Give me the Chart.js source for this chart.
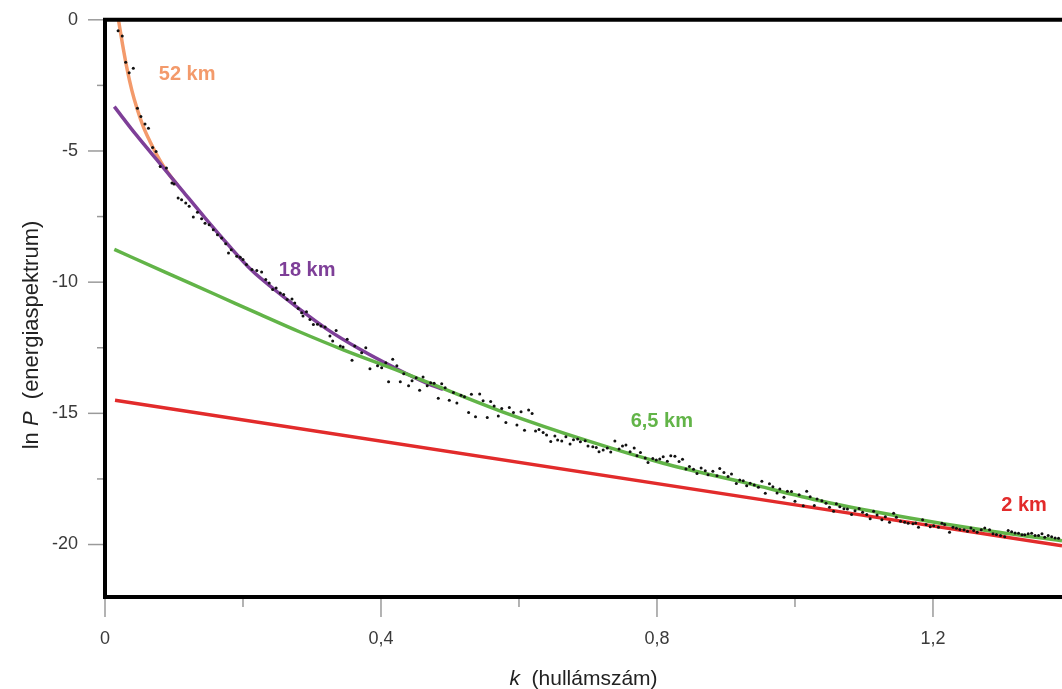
<!DOCTYPE html>
<html>
<head>
<meta charset="utf-8">
<script src="https://cdn.jsdelivr.net/npm/chart.js@4.4.1/dist/chart.umd.min.js"></script>
<style>
  html, body { margin: 0; padding: 0; background: #fff; overflow: hidden; }
  #wrap { position: relative; width: 1062px; height: 689px; }
</style>
</head>
<body>
<div id="wrap"><canvas id="spectrum"></canvas></div>
<script>
// measured spectrum points [k, ln P]
const dots = [
  [0.019,-0.42],[0.025,-0.62],[0.030,-1.62],[0.035,-2.02],[0.041,-1.85],[0.047,-3.37],[0.052,-3.69],
  [0.058,-3.97],[0.063,-4.13],[0.069,-4.87],[0.074,-5.02],[0.080,-5.59],[0.089,-5.65],[0.097,-6.22],
  [0.100,-6.26],[0.106,-6.79],[0.111,-6.86],[0.117,-6.98],[0.122,-7.11],[0.128,-7.52],[0.134,-7.34],
  [0.140,-7.58],[0.145,-7.75],[0.151,-7.81],[0.157,-8.00],[0.163,-8.19],[0.169,-8.32],[0.175,-8.54],
  [0.179,-8.89],[0.183,-8.76],[0.191,-9.01],[0.196,-9.05],[0.200,-9.14],[0.205,-9.33],[0.213,-9.52],
  [0.220,-9.56],[0.227,-9.61],[0.233,-9.90],[0.238,-10.03],[0.243,-10.28],[0.248,-10.22],[0.254,-10.41],
  [0.259,-10.47],[0.264,-10.66],[0.271,-10.64],[0.275,-10.79],[0.280,-11.00],[0.285,-11.17],[0.287,-11.29],
  [0.292,-11.13],[0.297,-11.42],[0.302,-11.61],[0.308,-11.60],[0.313,-11.67],[0.319,-11.71],[0.326,-12.05],
  [0.330,-12.24],[0.335,-11.84],[0.341,-12.43],[0.345,-12.47],[0.351,-12.18],[0.358,-12.98],[0.362,-12.43],
  [0.372,-12.69],[0.378,-12.50],[0.384,-13.30],[0.395,-13.19],[0.401,-13.26],[0.407,-13.07],[0.411,-13.80],
  [0.417,-12.94],[0.423,-13.19],[0.428,-13.80],[0.433,-13.49],[0.440,-13.95],[0.445,-13.76],[0.451,-13.64],
  [0.456,-14.12],[0.461,-13.61],[0.467,-13.95],[0.472,-13.83],[0.477,-13.85],[0.483,-14.42],[0.488,-13.87],
  [0.493,-14.02],[0.499,-14.50],[0.505,-14.21],[0.510,-14.61],[0.516,-14.31],[0.521,-14.37],[0.527,-14.97],
  [0.531,-14.27],[0.537,-15.13],[0.543,-14.26],[0.548,-14.52],[0.554,-15.16],[0.559,-14.55],[0.564,-14.72],
  [0.570,-15.10],[0.575,-14.82],[0.581,-15.35],[0.586,-14.78],[0.592,-14.97],[0.597,-15.44],[0.603,-14.94],
  [0.608,-15.64],[0.614,-14.87],[0.619,-15.01],[0.624,-15.67],[0.629,-15.62],[0.635,-15.73],[0.640,-15.83],
  [0.646,-16.07],[0.652,-15.86],[0.656,-16.02],[0.662,-16.05],[0.668,-15.89],[0.674,-16.17],[0.679,-16.01],
  [0.685,-15.98],[0.689,-16.08],[0.696,-16.04],[0.700,-16.24],[0.707,-16.27],[0.712,-16.30],[0.716,-16.46],
  [0.722,-16.40],[0.728,-16.32],[0.733,-16.47],[0.739,-16.05],[0.745,-16.36],[0.750,-16.24],[0.755,-16.21],
  [0.761,-16.46],[0.767,-16.32],[0.771,-16.62],[0.776,-16.49],[0.783,-16.70],[0.787,-16.87],[0.794,-16.72],
  [0.799,-16.78],[0.804,-16.74],[0.809,-16.65],[0.815,-16.83],[0.820,-16.62],[0.826,-16.64],[0.832,-16.84],
  [0.837,-16.75],[0.842,-17.12],[0.847,-17.03],[0.853,-17.13],[0.858,-17.29],[0.864,-17.08],[0.870,-17.19],
  [0.874,-17.34],[0.881,-17.21],[0.887,-17.38],[0.891,-17.10],[0.897,-17.25],[0.903,-17.41],[0.908,-17.31],
  [0.915,-17.67],[0.920,-17.54],[0.925,-17.57],[0.930,-17.76],[0.935,-17.66],[0.941,-17.73],[0.947,-17.82],
  [0.952,-17.59],[0.957,-18.05],[0.963,-17.68],[0.968,-17.80],[0.974,-18.04],[0.978,-17.88],[0.984,-18.20],
  [0.989,-17.97],[0.995,-17.98],[1.000,-18.35],[1.006,-18.10],[1.012,-18.52],[1.017,-17.97],[1.022,-18.18],
  [1.028,-18.51],[1.032,-18.26],[1.039,-18.33],[1.045,-18.43],[1.050,-18.58],[1.056,-18.73],[1.060,-18.45],
  [1.065,-18.56],[1.071,-18.64],[1.076,-18.65],[1.082,-18.86],[1.087,-18.71],[1.093,-18.63],[1.098,-18.77],
  [1.104,-18.86],[1.109,-19.02],[1.114,-18.73],[1.119,-18.87],[1.126,-19.06],[1.131,-18.94],[1.137,-19.15],
  [1.143,-18.81],[1.147,-18.96],[1.153,-19.11],[1.159,-19.15],[1.164,-19.19],[1.171,-19.21],[1.175,-19.18],
  [1.179,-19.34],[1.185,-19.06],[1.190,-19.24],[1.196,-19.32],[1.201,-19.28],[1.208,-19.34],[1.213,-19.19],
  [1.217,-19.24],[1.224,-19.53],[1.229,-19.34],[1.234,-19.38],[1.239,-19.43],[1.245,-19.44],[1.250,-19.49],
  [1.255,-19.37],[1.259,-19.47],[1.264,-19.53],[1.270,-19.44],[1.275,-19.37],[1.282,-19.44],[1.287,-19.59],
  [1.292,-19.62],[1.298,-19.66],[1.304,-19.70],[1.309,-19.47],[1.314,-19.51],[1.319,-19.56],[1.324,-19.57],
  [1.329,-19.63],[1.333,-19.63],[1.338,-19.59],[1.343,-19.57],[1.348,-19.66],[1.353,-19.66],[1.358,-19.59],
  [1.362,-19.72],[1.367,-19.66],[1.372,-19.70],[1.377,-19.75],[1.382,-19.76]
];

// fitted curves [k, ln P], one per source depth
const fit52km = [[0.0195,0],[0.0255,-0.95],[0.0319,-1.86],[0.039,-2.70],[0.0464,-3.38],[0.0552,-4.05],
  [0.0652,-4.64],[0.0745,-5.12],[0.0841,-5.55],[0.095,-5.96],[0.105,-6.30]];
const fit18km = [[0.0135,-3.31],[0.045,-4.38],[0.0797,-5.48],[0.1124,-6.52],[0.1449,-7.55],[0.18,-8.62],
  [0.2126,-9.55],[0.245,-10.27],[0.273,-10.85],[0.321,-11.78],[0.3696,-12.56],[0.418,-13.24],[0.466,-13.85],[0.49,-14.09]];
const fit65km = [[0.0135,-8.75],[0.087,-9.62],[0.16,-10.47],[0.2246,-11.23],[0.2826,-11.90],[0.3454,-12.58],
  [0.4275,-13.40],[0.466,-13.80],[0.577,-14.95],[0.70,-16.05],[0.809,-16.90],[0.930,-17.66],[1.041,-18.36],
  [1.164,-18.98],[1.273,-19.45],[1.387,-19.86]];
const fit2km = [[0.0145,-14.5],[1.387,-20.05]];

const curveNames = ['52 km', '18 km', '6,5 km', '2 km'];

// axis tick values
const xLabelTicks = [0, 0.4, 0.8, 1.2];
const yLabelTicks = [0, -5, -10, -15, -20];

const FONT = "'Liberation Sans', Arial, sans-serif";
const toXY = arr => arr.map(p => ({ x: p[0], y: p[1] }));

function fitLine(points, color, order) {
  return {
    data: toXY(points), showLine: true, pointRadius: 0, borderColor: color,
    borderWidth: 3.5, cubicInterpolationMode: 'monotone', order: order
  };
}

// curve label colours and anchors (data coords)
const curveLabelStyle = [
  { color: '#F39A6B', at: [0.119, -2.07] },
  { color: '#7E3F98', at: [0.293, -9.56] },
  { color: '#62B448', at: [0.807, -15.30] },
  { color: '#E22B2B', at: [1.332, -18.52] }
];

const framePlugin = {
  id: 'frame',
  afterDraw(chart) {
    const ctx = chart.ctx;
    const a = chart.chartArea;
    const xs = chart.scales.x, ys = chart.scales.y;

    // tick marks, long on labelled values, short between
    ctx.save();
    ctx.strokeStyle = '#9a9a9a';
    ctx.lineWidth = 1.5;
    xs.ticks.forEach(t => {
      const m = Math.round(t.value / 0.2);
      if (Math.abs(t.value - m * 0.2) > 1e-6) return;
      const len = m % 2 === 0 ? 20 : 10;
      const px = xs.getPixelForValue(t.value);
      ctx.beginPath();
      ctx.moveTo(px, a.bottom + 2);
      ctx.lineTo(px, a.bottom + len);
      ctx.stroke();
    });
    ys.ticks.forEach(t => {
      const m = Math.round(t.value / 2.5);
      if (Math.abs(t.value - m * 2.5) > 1e-6) return;
      const len = m % 2 === 0 ? 17 : 8;
      const py = ys.getPixelForValue(t.value);
      ctx.beginPath();
      ctx.moveTo(a.left - 2, py);
      ctx.lineTo(a.left - len, py);
      ctx.stroke();
    });

    // black frame (right side falls outside the picture)
    ctx.strokeStyle = '#000';
    ctx.lineWidth = 4;
    ctx.lineCap = 'square';
    ctx.beginPath();
    ctx.moveTo(a.right + 4, a.top);
    ctx.lineTo(a.left, a.top);
    ctx.lineTo(a.left, a.bottom);
    ctx.lineTo(a.right + 4, a.bottom);
    ctx.stroke();

    // curve labels
    ctx.font = 'bold 20px ' + FONT;
    ctx.textAlign = 'center';
    ctx.textBaseline = 'middle';
    curveNames.forEach((name, i) => {
      const s = curveLabelStyle[i];
      ctx.fillStyle = s.color;
      ctx.fillText(name, xs.getPixelForValue(s.at[0]), ys.getPixelForValue(s.at[1]));
    });

    // axis titles with italic symbols
    function drawParts(parts, cx, cy, size) {
      let total = 0;
      parts.forEach(p => { ctx.font = p[1] + size + 'px ' + FONT; total += ctx.measureText(p[0]).width; });
      let x = cx - total / 2;
      ctx.textAlign = 'left';
      ctx.textBaseline = 'alphabetic';
      parts.forEach(p => {
        ctx.font = p[1] + size + 'px ' + FONT;
        ctx.fillText(p[0], x, cy);
        x += ctx.measureText(p[0]).width;
      });
    }
    ctx.fillStyle = '#222';
    drawParts([['k', 'italic '], ['  (hullámszám)', '']], (a.left + a.right) / 2, 685, 21);
    ctx.translate(38, 335);
    ctx.rotate(-Math.PI / 2);
    drawParts([['ln ', ''], ['P', 'italic '], ['  (energiaspektrum)', '']], 0, 0, 22);
    ctx.restore();
  }
};

new Chart(document.getElementById('spectrum'), {
  type: 'scatter',
  data: {
    datasets: [
      { data: toXY(dots), pointRadius: 1.5, pointBackgroundColor: '#111', pointBorderWidth: 0, order: 0 },
      fitLine(fit2km, curveLabelStyle[3].color, 1),
      fitLine(fit65km, curveLabelStyle[2].color, 2),
      fitLine(fit18km, curveLabelStyle[1].color, 3),
      fitLine(fit52km, curveLabelStyle[0].color, 4)
    ]
  },
  options: {
    responsive: true,
    maintainAspectRatio: false,
    animation: false,
    layout: { autoPadding: false, padding: { top: 18, right: 0, left: 0, bottom: 0 } },
    plugins: { legend: { display: false }, tooltip: { enabled: false } },
    scales: {
      x: {
        type: 'linear', min: 0, max: 1.387,
        border: { display: false },
        // invisible long ticks leave room for the hand-drawn ones; labels sit below them
        grid: { drawOnChartArea: false, tickLength: 31, color: 'rgba(0,0,0,0)' },
        ticks: {
          stepSize: 0.2, autoSkip: false, maxRotation: 0, padding: 0,
          color: '#3a3a3a', font: { family: FONT, size: 18 },
          callback: v => {
            const r = Math.round(v * 10) / 10;
            return xLabelTicks.some(t => Math.abs(t - v) < 1e-6) ? String(r).replace('.', ',') : '';
          }
        },
        afterFit: s => { s.height = 92; }
      },
      y: {
        type: 'linear', min: -22, max: 0,
        border: { display: false },
        grid: { drawOnChartArea: false, tickLength: 18, color: 'rgba(0,0,0,0)' },
        ticks: {
          stepSize: 2.5, autoSkip: false, padding: 9,
          color: '#3a3a3a', font: { family: FONT, size: 18 },
          callback: v => yLabelTicks.some(t => Math.abs(t - v) < 1e-6) ? String(v) : ''
        },
        afterFit: s => { s.width = 105; }
      }
    }
  },
  plugins: [framePlugin]
});
</script>
</body>
</html>
